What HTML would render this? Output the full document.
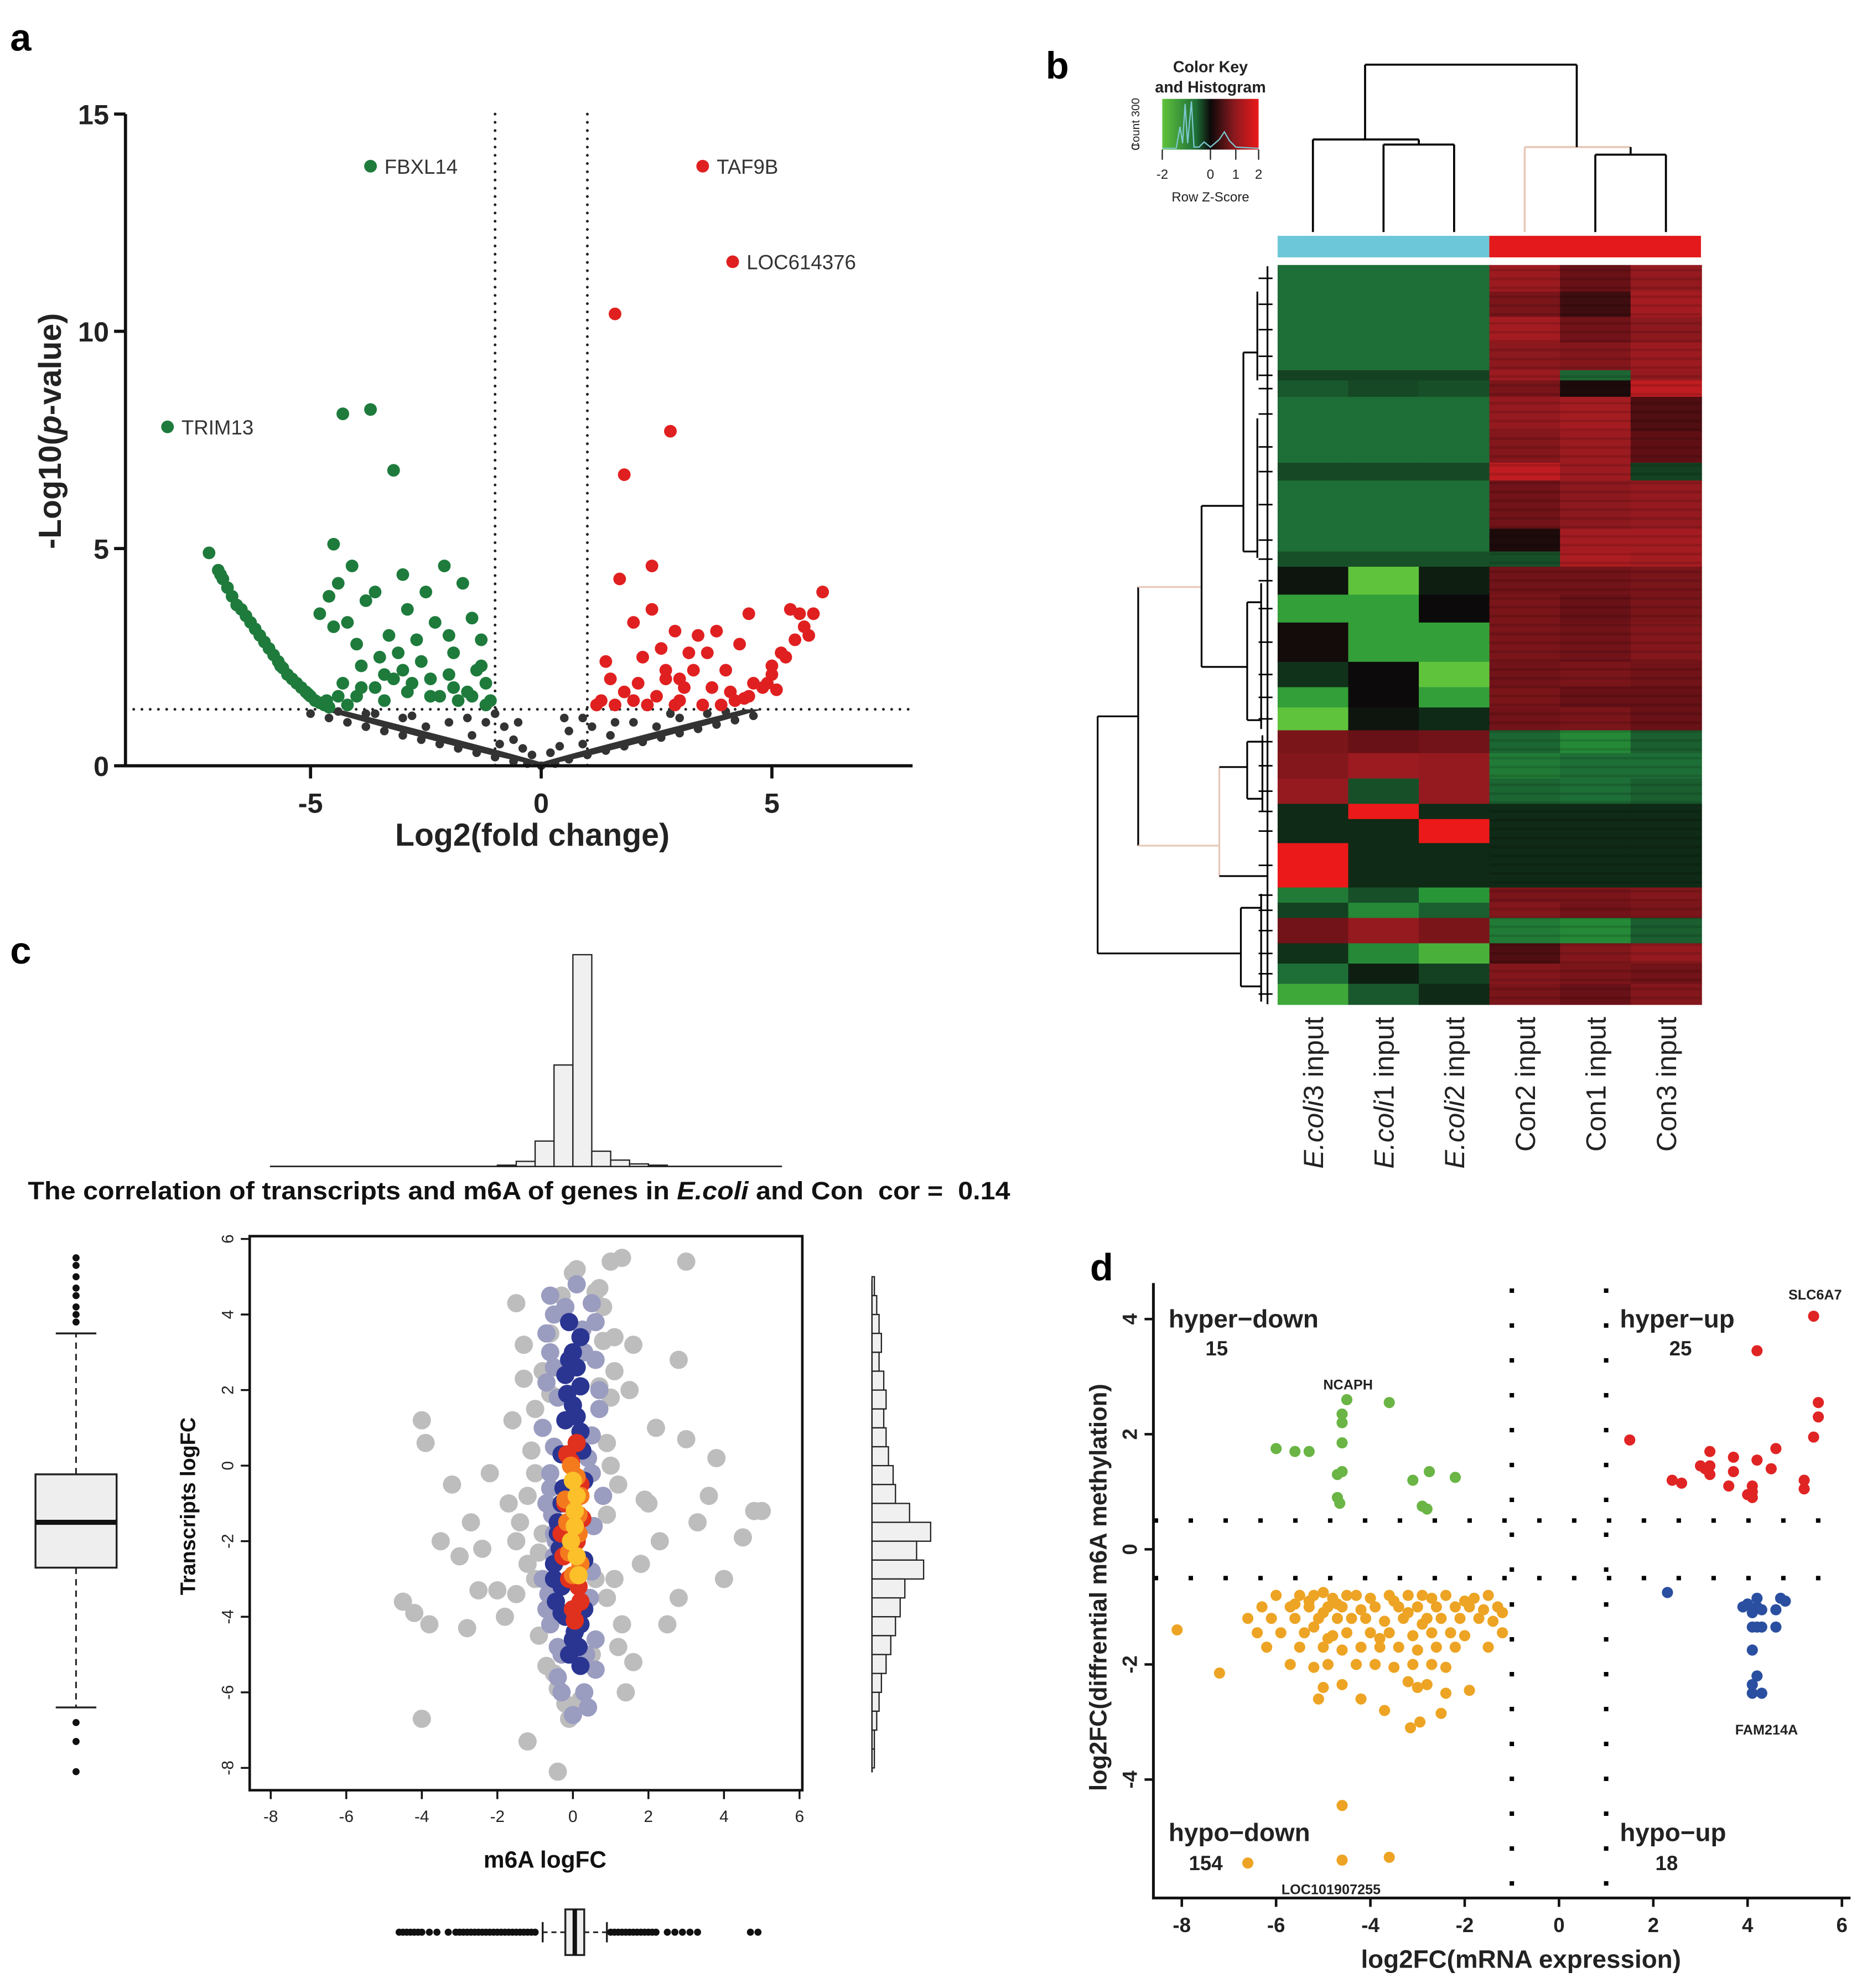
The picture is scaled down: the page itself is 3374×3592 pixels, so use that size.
<!DOCTYPE html>
<html><head><meta charset="utf-8"><title>Figure</title>
<style>html,body{margin:0;padding:0;background:#fff}svg{display:block}text{font-family:"Liberation Sans",Arial,sans-serif}</style>
</head><body>
<svg id="fig" xmlns="http://www.w3.org/2000/svg" width="3374" height="3592" viewBox="0 0 1473 1568" preserveAspectRatio="none"></svg>
<script>
// ---------- DATA ----------
const volGreenX=[-7.2,-7.0,-6.9,-6.8,-6.7,-6.6,-6.5,-6.3,-6.1,-6.0,-5.9,-5.7,-5.6,-5.5,-5.3,-5.2,-5.1,-4.9,-4.8,-4.7,-4.5,-4.4,-4.6,-4.8,-4.5,-4.2,-4.0,-3.8,-3.6,-3.5,-3.3,-3.0,-2.9,-2.7,-2.5,-2.3,-2.1,-1.9,-1.7,-1.5,-1.3,-1.2,-1.4,-1.6,-2.0,-2.4,-2.8,-3.2,-3.6,-4.0,-4.3,-2.6,-3.1,-1.1,-1.8,-2.2,-3.4,-4.2,-1.3,-3.9,-4.1,-3.0,-2.0,-6.2,-5.8,-5.4,-5.0,-4.6,-3.7,-8.1,-4.3,-3.7,-3.2,-6.95,-6.4,-5.65,-5.05,-4.65,-4.4,-3.9,-3.4,-2.9,-2.4,-1.9,-1.5,-1.2];
const volGreenY=[4.9,4.5,4.3,4.1,3.9,3.7,3.6,3.3,3.0,2.85,2.7,2.4,2.25,2.1,1.9,1.8,1.7,1.5,1.45,1.4,5.1,4.2,3.9,3.5,3.2,3.3,2.8,3.8,4.0,2.5,3.0,4.4,3.6,2.9,4.0,3.3,4.6,2.6,4.2,3.4,2.9,1.9,2.2,1.7,2.1,2.0,1.9,2.0,1.8,1.6,1.9,2.4,2.6,1.5,1.5,1.6,1.5,1.4,2.3,2.3,4.6,2.2,3.0,3.15,2.55,2.0,1.6,1.35,13.8,7.8,8.1,8.2,6.8,4.4,3.45,2.3,1.65,1.5,1.6,1.8,2.1,1.7,1.6,1.8,1.6,1.4];
const volRedX=[3.5,4.15,1.6,2.8,1.8,1.7,2.0,2.4,2.6,2.2,1.5,1.8,2.0,2.5,3.0,3.2,3.4,3.7,4.0,4.3,4.5,4.6,5.0,5.2,5.4,5.6,6.1,5.8,5.5,5.3,5.0,4.8,4.5,4.2,3.9,3.5,3.0,2.7,2.9,3.3,3.8,4.1,1.3,1.4,2.3,2.9,3.6,2.4,2.7,5.7,5.9,1.2,1.6,2.1,3.1,4.4,4.9,5.1];
const volRedY=[13.8,11.6,10.4,7.7,6.7,4.3,3.3,3.6,2.7,2.5,2.0,1.7,1.5,1.6,2.0,2.6,3.0,1.8,2.2,2.8,3.5,1.9,2.3,2.6,3.6,3.5,4.0,3.0,2.9,2.5,2.1,1.8,1.6,1.5,1.4,1.4,1.5,2.2,3.1,2.2,3.1,1.7,1.5,2.4,1.4,1.4,2.6,4.6,2.0,3.2,3.5,1.4,1.4,1.9,1.8,1.55,1.9,1.75];
const volGreyX=[-5.0,-4.6,-4.2,-3.8,-3.4,-3.0,-2.6,-2.2,-1.8,-1.4,-1.0,-0.6,-0.3,0,0.3,0.6,1.0,1.4,1.8,2.2,2.6,3.0,3.4,3.8,4.2,4.6,-1.0,-0.8,-0.6,-0.4,0.4,0.6,0.9,1.1,-1.2,-2.0,-3.0,2.0,3.0,-1.5,1.5,-0.9,0.9,-2.5,2.5,-0.2,0.2,-3.8,3.6,-0.5,0.5,-4.4,-3.6,-2.8,-1.6,1.6,2.8,4.0];
const volGreyY=[1.2,1.1,1.0,0.9,0.8,0.7,0.6,0.5,0.4,0.3,0.2,0.1,0.05,0,0.05,0.15,0.25,0.35,0.45,0.55,0.65,0.75,0.85,0.95,1.05,1.15,1.2,0.9,0.6,0.4,0.45,0.8,1.1,0.9,1.0,1.0,1.1,1.0,1.1,0.7,0.7,0.5,0.5,0.9,0.9,0.25,0.3,1.2,1.2,1.0,1.1,1.25,1.2,1.15,1.1,1.0,1.2,1.25];
const volLabels=[["FBXL14",-3.7,13.8],["TRIM13",-8.1,7.8],["TAF9B",3.5,13.8],["LOC614376",4.15,11.6]];
const volXTicks=[-5,0,5];
const volYTicks=[0,5,10,15];

const hmSamples=["E.coli3 input","E.coli1 input","E.coli2 input","Con2 input","Con1 input","Con3 input"];
const hmRowH=[21,20,20,22,8,13,27,25,14,38,18,12,22,22,31,20,16,18,18,20,20,12,19,35,12,12,20,16,16,16];
const hmZ=[
[-1.2,-1.2,-1.2,1.2,0.6,1.1],[-1.2,-1.2,-1.2,0.8,0.3,1.3],[-1.2,-1.2,-1.2,1.3,0.7,1.0],[-1.2,-1.2,-1.2,1.0,0.9,1.2],
[-0.6,-0.6,-0.6,1.2,-1.1,1.1],[-0.9,-0.7,-0.8,0.8,0.1,1.6],[-1.2,-1.2,-1.2,1.1,1.3,0.4],[-1.2,-1.2,-1.2,0.9,1.2,0.5],
[-0.7,-0.7,-0.7,1.6,1.2,-0.6],[-1.2,-1.2,-1.2,0.7,1.0,1.1],[-1.2,-1.2,-1.2,0.1,1.3,1.3],[-0.8,-0.8,-0.8,-0.8,1.4,1.3],
[-0.1,-2.0,-0.2,0.7,0.7,0.8],[-1.6,-1.6,0.0,0.8,0.6,0.8],[0.05,-1.6,-1.6,0.8,0.7,0.9],[-0.4,0.0,-2.0,0.7,0.8,0.7],
[-1.6,0.0,-1.6,0.8,0.6,0.6],[-2.0,-0.1,-0.3,0.7,0.8,0.6],[0.8,0.6,0.7,-1.1,-1.4,-1.0],[0.9,1.2,1.1,-1.3,-1.2,-1.2],
[1.1,-0.8,1.1,-1.1,-1.2,-1.0],[-0.3,2.0,-0.3,-0.3,-0.3,-0.3],[-0.3,-0.3,2.0,-0.3,-0.3,-0.3],[2.0,-0.3,-0.3,-0.3,-0.3,-0.3],
[-1.3,-0.8,-1.5,0.8,0.8,0.9],[-0.6,-1.4,-1.0,0.9,0.7,0.8],[0.7,1.1,0.8,-1.3,-1.4,-1.0],[-0.4,-1.4,-1.8,0.4,0.9,1.1],
[-1.2,-0.2,-0.6,0.9,0.8,0.7],[-1.7,-0.9,-0.3,0.8,0.6,0.9]];

const corGreyX=[-4,-4.5,-4.2,-3.8,-4.0,-3.9,-3.2,-3.0,-2.5,-2.7,-2.4,-2,-1.8,-1.5,-1.2,-1.0,-0.8,-0.6,-0.5,-0.3,0,0.2,0.5,0.8,1.0,1.3,1.6,1.8,2.0,2.2,2.5,2.8,3.0,3.3,3.6,3.8,4.0,4.5,4.8,5.0,3.0,2.8,1.5,-2.2,-3.5,-0.9,1.2,-1.2,-0.4,1.1,-1.6,2.3,-2.8,0.9,-1.3,1.4,-0.4,-1.5,0.7,0.9,-0.2,0.6,-1.7,1.1,-1.0,0.8,-0.7,1.9,-1.4,-1.1,-0.9,1.0,1.2,1.3,-1.3,-1.0,0.9,1.0,-0.8,0.7,1.1,-1.5,-1.2,-0.6,0.1,0.6,1.6,-0.1];
const corGreyY=[-6.7,-3.6,-3.9,-4.2,1.2,0.6,-0.5,-2.4,-3.3,-1.5,-2.2,-3.3,-4.0,-2.0,-0.8,1.5,2.5,3.5,-5.5,4.5,5.1,-6.2,-5.0,4.2,5.4,5.5,3.2,-2.6,-1.0,1.0,-4.2,-3.5,0.7,-1.5,-0.8,0.2,-3.0,-1.9,-1.2,-1.2,5.4,2.8,2.0,-0.2,-2.0,-4.5,-4.8,-7.3,-8.1,-3.0,1.2,-2.0,-4.3,0.6,3.2,-6.0,-5.9,4.3,4.7,-1.3,-6.3,-3.0,-1.0,2.5,-0.2,3.3,-5.3,-0.9,-1.5,0.4,-2.3,1.8,-0.5,-4.2,2.3,-3.0,-3.5,0.0,-1.8,2.1,3.4,-3.4,-2.6,1.9,5.2,4.6,-5.2,-6.7];
const corLbX=[-0.6,-0.7,0.6,0.7,-0.8,0.8,-0.5,0.5,-0.7,0.6,-0.4,0.4,-0.6,0.5,-0.3,0.3,-0.5,0.6,0,0.1,-0.8,0.7,-0.5,-0.6,-0.7,0.5,0.6,-0.4,-0.5,0.4,-0.6,-0.55,-0.5,0.55,-0.3,0.3,-0.65,-0.6,-0.4,0.45,0.35,-0.2,0.25,-0.7,-0.45,0.5];
const corLbY=[4.5,3.5,3.8,2.0,1.0,-0.8,-1.8,-2.8,-3.8,-4.6,-5.6,-6.4,-0.2,0.8,-5.0,3.0,2.6,-5.4,-6.6,4.8,-3.0,1.5,4.0,3.0,2.2,4.3,2.8,1.8,0.5,0.2,-0.6,-1.3,-2.4,-1.6,-6.0,-6.0,-3.4,-4.2,-4.8,-3.5,-5.0,4.2,3.6,-1.0,-2.0,-0.2];
const corBlueX=[-0.1,0.2,0,-0.2,0.2,0,-0.2,0.2,-0.3,0.3,-0.4,0.3,-0.3,0.2,0,-0.1,0.2,0.3,-0.35,0.25,-0.5,-0.45,-0.1,0.1,0.1,-0.15,-0.3,-0.4,-0.5,0.05,0.15,-0.2,-0.3,-0.25];
const corBlueY=[3.8,3.4,3.0,2.4,2.1,1.6,1.2,0.9,0.3,-0.4,-1.5,-2.5,-3.2,-4.2,-4.6,-5.0,-5.3,-3.8,-2.2,0.4,-2.6,-3.6,2.8,2.6,1.3,1.9,-1.0,-1.8,-3.0,-4.4,-4.8,-4.0,-3.9,-0.6];
const corRedX=[0.1,-0.05,0.2,-0.2,0.1,-0.1,0.2,0.05,-0.25,0.25,-0.15,0.15,0.0,-0.3];
const corRedY=[0.6,0.1,-0.5,-1.0,-2.0,-3.0,-3.6,-4.1,-2.4,-1.4,0.3,-3.2,-3.8,-1.8];
const corOrangeX=[0.1,0.15,-0.1,0,0.15,-0.05,0.2,-0.15,-0.2,0.2];
const corOrangeY=[-0.3,-1.3,-2.3,-2.9,-1.8,0.0,-2.6,-1.5,-0.9,-0.8];
const corYellowX=[0.1,0.05,-0.05,0.1,0.05,0.15,0.0];
const corYellowY=[-0.8,-1.6,-2.0,-2.4,-1.2,-2.9,-0.4];
const corTicks=[-8,-6,-4,-2,0,2,4,6];
const histTopStart=[-2,-1.5,-1,-0.5,0,0.5,1,1.5,2];
const histTopCount=[1,4,20,80,167,12,5,2,1];
const histRightStart=[5,4.5,4,3.5,3,2.5,2,1.5,1,0.5,0,-0.5,-1,-1.5,-2,-2.5,-3,-3.5,-4,-4.5,-5,-5.5,-6,-6.5,-7,-7.5];
const histRightCount=[1,2,3,4,3,5,6,5,6,7,9,10,16,25,19,22,14,12,10,8,6,4,3,2,1,1];
const boxLeftStats=[-6.4,-2.7,-1.5,-0.23,3.5];
const boxLeftOut=[3.8,4.0,4.2,4.5,4.7,5.0,5.3,5.5,-6.8,-7.3,-8.1];
const boxBotStats=[-0.8,-0.2,0.05,0.3,0.9];
const boxBotOut=[-4.6,-4.5,-4.4,-4.3,-4.2,-4.1,-4.0,-3.8,-3.6,-3.3,-3.1,-3.0,-2.9,-2.8,-2.7,-2.6,-2.5,-2.4,-2.3,-2.2,-2.1,-2.0,-1.9,-1.8,-1.7,-1.6,-1.5,-1.4,-1.3,-1.2,-1.1,-1.0,1.0,1.1,1.2,1.3,1.4,1.5,1.6,1.7,1.8,1.9,2.0,2.1,2.2,2.5,2.7,2.9,3.1,3.3,4.7,4.9];

const qGreenX=[-4.5,-4.6,-4.6,-4.6,-3.6,-6.0,-5.6,-5.3,-4.7,-4.7,-4.65,-3.1,-2.9,-2.75,-2.2,-2.8,-4.6];
const qGreenY=[2.6,2.35,2.2,1.85,2.55,1.75,1.7,1.7,1.3,0.9,0.8,1.2,0.75,1.35,1.25,0.7,1.35];
const qRedX=[5.4,4.2,5.5,5.5,5.4,1.5,2.4,2.6,3.2,3.2,3.1,3.7,3.7,4.2,4.1,4.1,4.0,4.6,4.5,5.2,5.2,3.6,3.2,4.1,3.0];
const qRedY=[4.05,3.45,2.55,2.3,1.95,1.9,1.2,1.15,1.45,1.7,1.4,1.35,1.6,1.55,1.0,0.9,0.95,1.75,1.4,1.05,1.2,1.1,1.3,1.1,1.45];
const qBlueX=[2.3,3.9,4.0,4.1,4.2,4.3,4.7,4.8,4.6,4.6,4.1,4.1,4.2,4.3,4.1,4.2,4.1,4.3,4.2];
const qBlueY=[-0.75,-1.0,-0.95,-1.1,-1.0,-1.05,-0.85,-0.9,-1.05,-1.35,-1.35,-1.75,-1.35,-1.35,-2.35,-2.2,-2.5,-2.5,-0.85];
const qOrangeX=[-8.1,-7.2,-4.6,-6.6,-4.6,-3.6,-6.0,-5.5,-5.2,-5.0,-4.8,-4.5,-4.3,-4.0,-3.6,-3.2,-2.9,-2.7,-2.4,-2.0,-1.8,-1.5,-1.3,-6.3,-5.7,-5.3,-4.9,-4.6,-4.2,-3.9,-3.4,-3.0,-2.6,-2.2,-1.9,-1.6,-1.2,-6.6,-6.1,-5.6,-5.1,-4.7,-4.4,-4.1,-3.7,-3.3,-2.8,-2.5,-2.1,-1.7,-1.4,-6.4,-5.9,-5.4,-4.8,-4.5,-4.0,-3.6,-3.1,-2.7,-2.3,-2.0,-1.2,-6.2,-5.5,-5.0,-4.6,-4.2,-3.8,-3.4,-3.0,-2.6,-2.2,-1.5,-5.7,-5.2,-4.9,-4.3,-3.9,-3.5,-3.1,-2.7,-2.4,-5.0,-4.6,-3.2,-3.0,-2.8,-2.4,-1.9,-3.15,-2.95,-5.1,-4.2,-3.7,-5.6,-2.5,-3.8,-5.3,-5.0,-4.7,-3.5,-3.2,-2.9,-5.2,-4.9];
const qOrangeY=[-1.4,-2.15,-4.45,-5.45,-5.4,-5.35,-0.8,-0.8,-0.8,-0.75,-0.85,-0.8,-0.8,-0.85,-0.8,-0.8,-0.8,-0.85,-0.8,-0.9,-0.85,-0.8,-1.0,-1.0,-1.0,-1.0,-1.0,-1.0,-1.05,-1.0,-1.0,-1.0,-1.0,-1.0,-1.0,-1.05,-1.1,-1.2,-1.2,-1.2,-1.2,-1.2,-1.2,-1.2,-1.25,-1.2,-1.2,-1.2,-1.2,-1.2,-1.25,-1.45,-1.45,-1.45,-1.5,-1.45,-1.45,-1.45,-1.5,-1.45,-1.45,-1.5,-1.45,-1.7,-1.7,-1.7,-1.75,-1.7,-1.7,-1.7,-1.75,-1.7,-1.7,-1.7,-2.0,-2.05,-2.0,-2.0,-2.0,-2.05,-2.0,-2.0,-2.05,-2.4,-2.35,-2.3,-2.4,-2.35,-2.5,-2.45,-3.1,-3.0,-2.6,-2.6,-2.8,-0.95,-2.85,-1.55,-0.9,-1.1,-0.95,-0.9,-1.1,-1.3,-1.35,-1.55];
const qXTicks=[-8,-6,-4,-2,0,2,4,6];
const qYTicks=[4,2,0,-2,-4];

// ---------- DRAWING ----------
const NS="http://www.w3.org/2000/svg";
const svg=document.getElementById('fig');
function mk(tag,attrs,parent){const e=document.createElementNS(NS,tag);for(const k in attrs)e.setAttribute(k,attrs[k]);(parent||svg).appendChild(e);return e;}
function grp(name){const g=mk('g',{});return g;}
function txt(p,x,y,s,size,opts){const o=Object.assign({'font-size':size,x:x,y:y},opts||{});const t=mk('text',o,p);t.textContent=s;return t;}

mk('rect',{x:0,y:0,width:1473,height:1568,fill:'#fff'});

[['a',8,40],['b',825,62],['c',8,760],['d',860,1010]].forEach(function(l){
  const t=txt(svg,l[1],l[2],l[0],30,{'font-weight':'bold'});
  
  
});

// ===== Panel a =====
(function(){
const g=grp('volcano-plot');
const X=v=>427+v*36.4, Y=v=>604-v*34.27;
[[X(-1),90,X(-1),604],[X(1),90,X(1),604],[99,Y(1.3),720,Y(1.3)]].forEach(function(s){
  const l=mk('line',{x1:s[0],y1:s[1],x2:s[2],y2:s[3],stroke:'#222','stroke-width':2.2,'stroke-dasharray':'0 6.5','stroke-linecap':'round'},g);
  
  
});
volGreyX.forEach(function(v,i){
  const c=mk('circle',{cx:X(v),cy:Y(volGreyY[i]),r:3.4,fill:'#333'},g);
  
  
});
const band=mk('path',{d:'M'+X(-4.8)+','+Y(1.3)+' Q'+X(-1.5)+','+Y(0.3)+' '+X(0)+','+Y(0)+' Q'+X(1.5)+','+Y(0.3)+' '+X(4.8)+','+Y(1.3)+' L'+X(4.4)+','+Y(1.3)+' Q'+X(1.2)+','+Y(0.45)+' '+X(0)+','+Y(0.08)+' Q'+X(-1.2)+','+Y(0.45)+' '+X(-4.4)+','+Y(1.3)+'Z',fill:'#333'},g);


volGreenX.forEach(function(v,i){
  const c=mk('circle',{cx:X(v),cy:Y(volGreenY[i]),r:5,fill:'#1e7b3c'},g);
  
  
});
volRedX.forEach(function(v,i){
  const c=mk('circle',{cx:X(v),cy:Y(volRedY[i]),r:5,fill:'#e02020'},g);
  
  
});
volLabels.forEach(function(l){
  const t=txt(g,X(l[1])+11,Y(l[2])+6,l[0],16,{fill:'#333'});
  
  
});
const ax=mk('path',{d:'M99,90 V604 H720',fill:'none',stroke:'#111','stroke-width':2.5},g);


volYTicks.forEach(function(v){
  const l=mk('line',{x1:90,y1:Y(v),x2:99,y2:Y(v),stroke:'#111','stroke-width':2.5},g);
  
  
  const t=txt(g,86,Y(v)+8,String(v),22,{'text-anchor':'end','font-weight':'bold',fill:'#222'});
  
  
});
volXTicks.forEach(function(v){
  const l=mk('line',{x1:X(v),y1:604,x2:X(v),y2:614,stroke:'#111','stroke-width':2.5},g);
  
  
  const t=txt(g,X(v),641,String(v),22,{'text-anchor':'middle','font-weight':'bold',fill:'#222'});
  
  
});
const xt=txt(g,420,667,'Log2(fold change)',25,{'text-anchor':'middle','font-weight':'bold',fill:'#222'});


const yt=mk('text',{x:0,y:0,'font-size':25,'font-weight':'bold','text-anchor':'middle',fill:'#222',transform:'translate(48,340) rotate(-90)'},g);
yt.innerHTML='-Log10(<tspan font-style="italic">p</tspan>-value)';


})();

// ===== Panel b =====
(function(){
const g=grp('heatmap-panel');
const stops=[[-2,[95,195,60]],[-1.5,[40,150,55]],[-1.2,[30,110,55]],[-0.3,[15,42,22]],[0,[12,10,10]],[0.5,[95,15,20]],[1,[140,25,30]],[1.5,[180,30,35]],[2,[235,25,25]]];
function col(z){z=Math.max(-2,Math.min(2,z));for(let i=0;i<stops.length-1;i++){const a=stops[i],b=stops[i+1];if(z<=b[0]){const t=(z-a[0])/(b[0]-a[0]);return 'rgb('+a[1].map((c,k)=>Math.round(c+(b[1][k]-c)*t)).join(',')+')';}}return 'rgb(235,25,25)';}
const x0=1008,cw=55.7;
let y=209;
const tickY=[];
hmRowH.forEach(function(h,r){
  hmZ[r].forEach(function(z,c){
    const rc=mk('rect',{x:x0+c*cw,y:y,width:cw+0.6,height:h+0.6,fill:col(z)},g);
    
    
  });
  tickY.push(y+h/2);
  y+=h;
});
for(let yy=212;yy<790;yy+=7){
  const s=mk('rect',{x:x0+3*cw,y:yy,width:3*cw,height:2,fill:'#000',opacity:0.12},g);
  
  
}
const cb1=mk('rect',{x:1008,y:186,width:167,height:17,fill:'#6cc8d8'},g);


const cb2=mk('rect',{x:1175,y:186,width:167,height:17,fill:'#e3191c'},g);


const cx=i=>x0+cw*(i+0.5);
const topD=[[cx(0),183,cx(0),110,'#000'],[cx(1),183,cx(1),114,'#000'],[cx(2),183,cx(2),114,'#000'],[cx(1),114,cx(2),114,'#000'],[cx(0),110,(cx(1)+cx(2))/2,110,'#000'],[(cx(1)+cx(2))/2,110,(cx(1)+cx(2))/2,114,'#000'],
[cx(3),183,cx(3),116,'#e8c8b8'],[cx(4),183,cx(4),122,'#000'],[cx(5),183,cx(5),122,'#000'],[cx(4),122,cx(5),122,'#000'],[cx(3),116,(cx(4)+cx(5))/2,116,'#e8c8b8'],[(cx(4)+cx(5))/2,116,(cx(4)+cx(5))/2,122,'#000'],
[1077,110,1077,51,'#000'],[1244,116,1244,51,'#000'],[1077,51,1244,51,'#000']];
topD.forEach(function(s){
  const l=mk('line',{x1:s[0],y1:s[1],x2:s[2],y2:s[3],stroke:s[4],'stroke-width':1.6},g);
  
  
});
const leftD=[[866,565,866,752,'#000'],[866,565,898,565,'#000'],[866,752,979,752,'#000'],[898,463,898,667,'#000'],[898,463,948,463,'#e8c8b8'],[898,667,962,667,'#e8c8b8'],
[948,399,948,526,'#000'],[948,399,981,399,'#000'],[948,526,984,526,'#000'],[981,278,981,435,'#000'],[984,475,984,568,'#000'],
[962,605,962,691,'#e8c8b8'],[962,605,984,605,'#000'],[962,691,1000,691,'#000'],[984,585,984,630,'#000'],[979,716,979,778,'#000'],
[981,278,992,278,'#000'],[981,435,992,435,'#000'],[984,475,995,475,'#000'],[984,568,995,568,'#000'],[984,585,996,585,'#000'],[984,630,996,630,'#000'],[979,716,995,716,'#000'],[979,778,995,778,'#000'],
[992,230,992,300,'#000'],[992,330,992,440,'#000'],[995,460,995,575,'#000'],[996,580,996,640,'#000'],[995,705,995,790,'#000'],[1000,210,1000,792,'#000']];
leftD.forEach(function(s){
  const l=mk('line',{x1:s[0],y1:s[1],x2:s[2],y2:s[3],stroke:s[4],'stroke-width':1.4},g);
  
  
});
tickY.forEach(function(ty){
  const l=mk('line',{x1:993,y1:ty,x2:1004,y2:ty,stroke:'#000','stroke-width':1.2},g);
  
  
});
hmSamples.forEach(function(s,i){
  const parts=s.split(' ');
  const t=mk('text',{x:0,y:0,'font-size':22,fill:'#222','text-anchor':'end',transform:'translate('+(cx(i)+8)+',802) rotate(-90)'},g);
  if(s.indexOf('E.coli')===0){t.innerHTML='<tspan font-style="italic">E.coli</tspan>'+parts[0].slice(6)+' '+parts[1];}else{t.textContent=s;}
  
  
});
const kg=grp('color-key');
const defs=mk('defs',{},kg);
const lg=mk('linearGradient',{id:'kgrad',x1:0,x2:1,y1:0,y2:0},defs);
[[0,'rgb(95,195,60)'],[0.35,'rgb(30,110,55)'],[0.5,'#0c0a0a'],[0.75,'rgb(140,25,30)'],[1,'rgb(235,25,25)']].forEach(function(s){mk('stop',{offset:s[0],'stop-color':s[1]},lg);});
const kr=mk('rect',{x:917,y:78,width:76,height:40,fill:'url(#kgrad)'},kg);


const kh=mk('polyline',{points:'917,117 928,117 931,100 933,113 935,82 937,113 940,80 942,116 946,116 950,112 955,116 962,110 966,104 970,111 975,116 993,117',fill:'none',stroke:'#7cc8d0','stroke-width':1},kg);


[['Color Key',955,57],['and Histogram',955,73]].forEach(function(s){
  const t=txt(kg,s[1],s[2],s[0],12.5,{'text-anchor':'middle','font-weight':'bold',fill:'#222'});
  
  
});
[['-2',917],['0',955],['1',975],['2',993]].forEach(function(s){
  const l=mk('line',{x1:s[1],y1:118,x2:s[1],y2:126,stroke:'#222','stroke-width':1},kg);
  
  
  const t=txt(kg,s[1],141,s[0],10.5,{'text-anchor':'middle',fill:'#222'});
  
  
});
const rz=txt(kg,955,159,'Row Z-Score',10.5,{'text-anchor':'middle',fill:'#222'});


const cnt=mk('text',{x:0,y:0,'font-size':9,'text-anchor':'middle',fill:'#222',transform:'translate(899,98) rotate(-90)'},kg);
cnt.textContent='Count 300';


const c0=mk('text',{x:0,y:0,'font-size':9,'text-anchor':'middle',fill:'#222',transform:'translate(899,116) rotate(-90)'},kg);
c0.textContent='0';


})();

// ===== Panel c =====
(function(){
const g=grp('correlation-panel');
const X=v=>452+v*29.8, Y=v=>1156-v*29.8;
const title=mk('text',{x:22,y:946,'font-size':20,'font-weight':'bold',fill:'#111',textLength:775,lengthAdjust:'spacingAndGlyphs'},g);
title.innerHTML='The correlation of transcripts and m6A of genes in <tspan font-style="italic">E.coli</tspan> and Con&#160;&#160;cor =&#160;&#160;0.14';


const bl=mk('line',{x1:213,y1:920,x2:617,y2:920,stroke:'#222','stroke-width':1.2},g);


histTopStart.forEach(function(s,i){
  const h=histTopCount[i];
  const r=mk('rect',{x:X(s),y:920-h,width:29.8*0.5,height:h,fill:'#f0f0f0',stroke:'#222','stroke-width':1},g);
  
  
});
const rb=mk('line',{x1:688,y1:1010,x2:688,y2:1398,stroke:'#222','stroke-width':1.2},g);


histRightStart.forEach(function(s,i){
  const w=histRightCount[i]*1.85;
  const r=mk('rect',{x:688,y:Y(s),width:w,height:29.8*0.5,fill:'#f0f0f0',stroke:'#222','stroke-width':1},g);
  
  
});
function pts(xs,ys,fill,name,r){xs.forEach(function(v,i){
  const c=mk('circle',{cx:X(v),cy:Y(ys[i]),r:r,fill:fill},g);
  
  
});}
pts(corGreyX,corGreyY,'#bdbdbd','point-sparse',7.2);
pts(corLbX,corLbY,'#9a9cc0','point-low-density',7.2);
pts(corBlueX,corBlueY,'#2a3592','point-mid-density',7.2);
pts(corRedX,corRedY,'#e0301e','point-high-density',7.2);
pts(corOrangeX,corOrangeY,'#f47a1e','point-higher-density',7.2);
pts(corYellowX,corYellowY,'#fbc02a','point-peak-density',7.2);
const fr=mk('rect',{x:197,y:975,width:436,height:437,fill:'none',stroke:'#111','stroke-width':2},g);


corTicks.forEach(function(v){
  const l=mk('line',{x1:X(v),y1:1412,x2:X(v),y2:1419,stroke:'#111','stroke-width':1.5},g);
  
  
  const t=txt(g,X(v),1437,String(v),13,{'text-anchor':'middle',fill:'#222'});
  
  
  const l2=mk('line',{x1:190,y1:Y(v),x2:197,y2:Y(v),stroke:'#111','stroke-width':1.5},g);
  
  
  const t2=mk('text',{x:0,y:0,'font-size':13,'text-anchor':'middle',fill:'#222',transform:'translate(184,'+Y(v)+') rotate(-90)'},g);
  t2.textContent=String(v);
  
  
});
const xt=txt(g,430,1473,'m6A logFC',18.5,{'text-anchor':'middle','font-weight':'bold',fill:'#111'});


const yt=mk('text',{x:0,y:0,'font-size':16.5,'font-weight':'bold','text-anchor':'middle',fill:'#111',transform:'translate(154,1188) rotate(-90)'},g);
yt.textContent='Transcripts logFC';


const s=boxLeftStats;
const lb=mk('rect',{x:28,y:Y(s[3]),width:64,height:Y(s[1])-Y(s[3]),fill:'#eeeeee',stroke:'#222','stroke-width':1.5},g);


const lm=mk('line',{x1:28,y1:Y(s[2]),x2:92,y2:Y(s[2]),stroke:'#111','stroke-width':4},g);


[[Y(s[3]),Y(s[4])],[Y(s[1]),Y(s[0])]].forEach(function(w){
  const l=mk('line',{x1:60,y1:w[0],x2:60,y2:w[1],stroke:'#222','stroke-width':1.3,'stroke-dasharray':'5 4'},g);
  
  
  const c=mk('line',{x1:44,y1:w[1],x2:76,y2:w[1],stroke:'#222','stroke-width':1.5},g);
  
  
});
boxLeftOut.forEach(function(v){
  const c=mk('circle',{cx:60,cy:Y(v),r:2.8,fill:'#111'},g);
  
  
});
const b=boxBotStats, by=1524;
const bb=mk('rect',{x:X(b[1]),y:by-18,width:X(b[3])-X(b[1]),height:36,fill:'#eeeeee',stroke:'#222','stroke-width':1.5},g);


const bm=mk('line',{x1:X(b[2]),y1:by-18,x2:X(b[2]),y2:by+18,stroke:'#111','stroke-width':3.5},g);


[[X(b[1]),X(b[0])],[X(b[3]),X(b[4])]].forEach(function(w){
  const l=mk('line',{x1:w[0],y1:by,x2:w[1],y2:by,stroke:'#222','stroke-width':1.3,'stroke-dasharray':'4 3'},g);
  
  
  const c=mk('line',{x1:w[1],y1:by-8,x2:w[1],y2:by+8,stroke:'#222','stroke-width':1.5},g);
  
  
});
boxBotOut.forEach(function(v){
  const c=mk('circle',{cx:X(v),cy:by,r:2.8,fill:'#111'},g);
  
  
});
})();

// ===== Panel d =====
(function(){
const g=grp('quadrant-plot');
const X=v=>1230+v*37.2, Y=v=>1222-v*45.4;
[[X(-1),1018,X(-1),1497],[X(1),1018,X(1),1497],[912,Y(0.5),1460,Y(0.5)],[912,Y(-0.5),1460,Y(-0.5)]].forEach(function(s){
  const l=mk('line',{x1:s[0],y1:s[1],x2:s[2],y2:s[3],stroke:'#000','stroke-width':3.5,'stroke-dasharray':'0 27.5','stroke-linecap':'square'},g);
  
  
});
function pts(xs,ys,fill,name){xs.forEach(function(v,i){
  const c=mk('circle',{cx:X(v),cy:Y(ys[i]),r:4.4,fill:fill},g);
  
  
});}
pts(qOrangeX,qOrangeY,'#eda424','point-hypo-down');
pts(qGreenX,qGreenY,'#6ab545','point-hyper-down');
pts(qRedX,qRedY,'#e02424','point-hyper-up');
pts(qBlueX,qBlueY,'#2b4fa0','point-hypo-up');
const ax=mk('path',{d:'M910,1012 V1497 H1460',fill:'none',stroke:'#111','stroke-width':2.2},g);


qXTicks.forEach(function(v){
  const l=mk('line',{x1:X(v),y1:1497,x2:X(v),y2:1504,stroke:'#111','stroke-width':2},g);
  
  
  const t=txt(g,X(v),1524,String(v),16,{'text-anchor':'middle','font-weight':'bold',fill:'#222'});
  
  
});
qYTicks.forEach(function(v){
  const l=mk('line',{x1:903,y1:Y(v),x2:910,y2:Y(v),stroke:'#111','stroke-width':2},g);
  
  
  const t=mk('text',{x:0,y:0,'font-size':16,'font-weight':'bold','text-anchor':'middle',fill:'#222',transform:'translate(897,'+Y(v)+') rotate(-90)'},g);
  t.textContent=String(v);
  
  
});
[['hyper\u2212down',922,1047,20],['15',951,1069,16],['hyper\u2212up',1278,1047,20],['25',1317,1069,16],['hypo\u2212down',922,1452,20],['154',938,1475,16],['hypo\u2212up',1278,1452,20],['18',1306,1475,16]].forEach(function(s){
  const t=txt(g,s[1],s[2],s[0],s[3],{'font-weight':'bold',fill:'#222'});
  
  
});
[['SLC6A7',1411,1025],['NCAPH',1044,1096],['FAM214A',1369,1368],['LOC101907255',1011,1494]].forEach(function(s){
  const t=txt(g,s[1],s[2],s[0],11,{'font-weight':'bold',fill:'#222'});
  
  
});
const xt=txt(g,1200,1552,'log2FC(mRNA expression)',20,{'text-anchor':'middle','font-weight':'bold',fill:'#222'});


const yt=mk('text',{x:0,y:0,'font-size':19,'font-weight':'bold','text-anchor':'middle',fill:'#222',transform:'translate(873,1252) rotate(-90)'},g);
yt.textContent='log2FC(diffrential m6A methylation)';


})();
</script>
</body></html>
